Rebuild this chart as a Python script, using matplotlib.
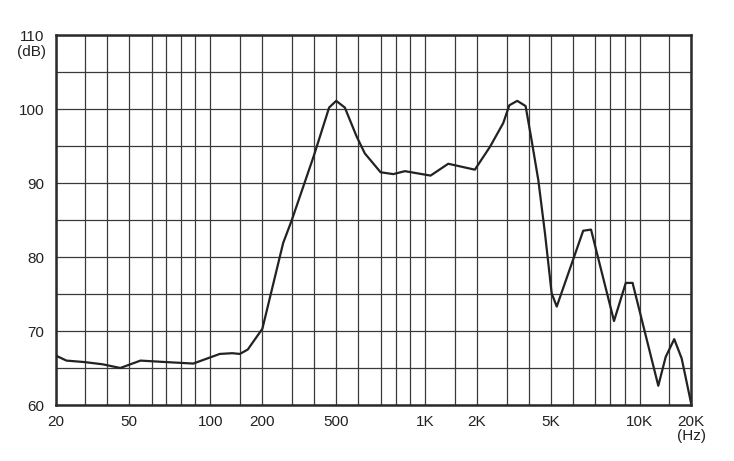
import numpy as np
import matplotlib
matplotlib.use('Agg')
import matplotlib.pyplot as plt
from matplotlib.ticker import FixedLocator, NullFormatter

plt.rcParams['font.family'] = ['Liberation Sans', 'DejaVu Sans']

# frequency response
freq = [20, 23.3, 30, 37.8, 45.8, 54.9, 70, 88.6, 114, 135, 150, 166, 200,
        267, 300, 400, 466, 500, 537, 592, 628, 700, 784, 862, 1080, 1375,
        1947, 2391, 2864, 3105, 3439, 3831, 4108, 4398, 4706, 5029, 5245,
        6446, 6809, 8277, 9070, 9513, 12937, 14330, 16065, 17700, 20000]
level = [66.7, 66.0, 65.8, 65.5, 65.0, 66.0, 65.8, 65.6, 66.9, 67.0, 66.9, 67.5, 70.3,
         81.9, 84.9, 93.7, 100.2, 101.1, 100.2, 96.3, 94.0, 91.45, 91.2, 91.6, 91.0, 92.6,
         91.8, 94.9, 98.1, 100.5, 101.1, 100.4, 95.8, 90.4, 83.2, 75.1, 73.3,
         83.55, 83.7, 71.35, 76.5, 76.5, 62.6, 66.5, 68.9, 66.3, 60.3]

grid_freq = [20, 30, 40, 50, 60, 70, 80, 90, 100, 150, 200, 300, 400, 500, 600, 700,
             800, 900, 1000, 1500, 2000, 3000, 4000, 5000, 6000, 7000, 8000, 9000,
             10000, 15000, 20000]
label_freq = [20, 50, 100, 200, 500, 1000, 2000, 5000, 10000, 20000]
label_text = ['20', '50', '100', '200', '500', '1K', '2K', '5K', '10K', '20K']
db_ticks = [60, 70, 80, 90, 100, 110]

# the printed frequency axis is not a clean log scale: warp it to the drawn grid
warp_pos = [55.7, 84.7, 107.3, 129, 151.7, 166.3, 181, 195.3, 210.3, 240, 262.5, 291.7,
            314, 336.3, 358.3, 380.7, 395.7, 410.3, 425, 454.7, 477, 506.7, 529, 551,
            573, 595, 609.7, 624.7, 639.7, 669, 691]
warp_log = np.log10(grid_freq)

def fwd(f):
    f = np.clip(np.asarray(f, dtype=float), 1e-3, None)
    return np.interp(np.log10(f), warp_log, warp_pos)

def inv(p):
    return 10 ** np.interp(np.asarray(p, dtype=float), warp_pos, warp_log)

fig = plt.figure(figsize=(7.34, 4.61), dpi=100)
ax = fig.add_axes([55.5 / 734, 1 - 405 / 461, (691 - 55.5) / 734, (405 - 35) / 461])
ax.set_xscale('function', functions=(fwd, inv))
ax.set_xlim(20, 20000)
ax.set_ylim(60, 110)

ax.xaxis.set_major_locator(FixedLocator(label_freq))
ax.xaxis.set_minor_locator(FixedLocator([f for f in grid_freq if f not in label_freq]))
ax.set_xticklabels(label_text)
ax.xaxis.set_minor_formatter(NullFormatter())
ax.yaxis.set_major_locator(FixedLocator(db_ticks))
ax.yaxis.set_minor_locator(FixedLocator(list(range(65, 110, 10))))

ax.grid(True, which='both', color='#3a3a3a', lw=0.9)
ax.set_axisbelow(True)
ax.tick_params(which='both', length=0, labelsize=11, colors='#222222')
ax.tick_params(axis='x', pad=7)
ax.tick_params(axis='y', pad=8)
for s in ax.spines.values():
    s.set_linewidth(1.8)
    s.set_color('#2a2a2a')

ax.plot(freq, level, color='#222222', lw=1.6, zorder=3)

ax.text(-0.015, 0.955, '(dB)', transform=ax.transAxes, ha='right', va='center',
        fontsize=11, color='#222222')
ax.text(1.0, -0.085, '(Hz)', transform=ax.transAxes, ha='center', va='center',
        fontsize=11, color='#222222')

fig.savefig('out.png', dpi=100)
